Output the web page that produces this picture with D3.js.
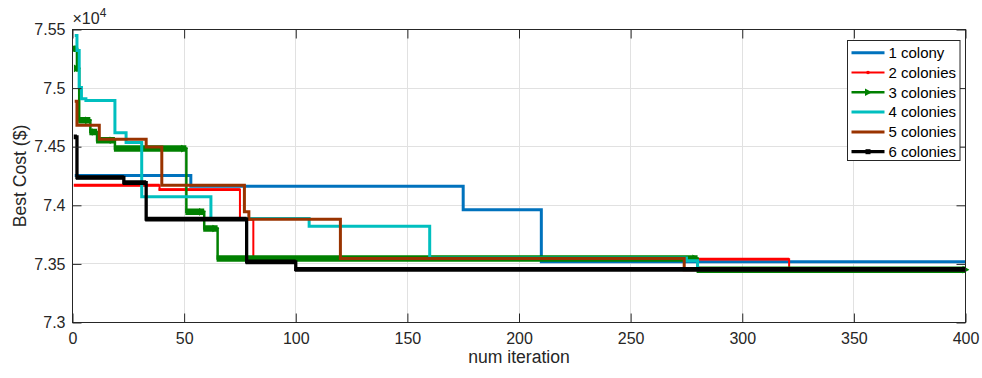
<!DOCTYPE html>
<html>
<head>
<meta charset="utf-8">
<script src="https://cdn.jsdelivr.net/npm/d3@7"></script>
<style>
  body { margin: 0; background: #fff; }
  svg { display: block; font-family: "Liberation Sans", Arial, sans-serif; }
</style>
</head>
<body>
<svg id="chart" width="982" height="378"></svg>
<script>
// step data: [iteration, best cost] -> value holds from that iteration on
const colony1 = [[1, 74254], [53, 74163], [175, 73963], [210, 73518], [400, 73518]];
const colony2 = [[1, 74171], [39, 74134], [75, 73882], [81, 73540], [321, 73451], [400, 73451]];
const colony3 = [[1, 75336], [2, 75168], [3, 74725], [8, 74625], [11, 74555], [19, 74484],
                 [51, 73944], [59, 73802], [65, 73547], [280, 73451], [400, 73451]];
const colony4 = [[1, 75449], [2, 75320], [3, 75005], [4, 74910], [6, 74895], [19, 74620],
                 [24, 74535], [31, 74072], [62, 73888], [106, 73822], [160, 73550],
                 [275, 73526], [280, 73451], [400, 73451]];
const colony5 = [[1, 74887], [2, 74682], [12, 74563], [33, 74497], [40, 74171], [77, 73945],
                 [79, 73882], [120, 73547], [274, 73451], [400, 73451]];
const colony6 = [[1, 74583], [2, 74237], [23, 74194], [33, 73882], [78, 73518], [100, 73453], [400, 73453]];

const seriesNames = ["1 colony", "2 colonies", "3 colonies", "4 colonies", "5 colonies", "6 colonies"];
const seriesData = [colony1, colony2, colony3, colony4, colony5, colony6];

const xTicks = [0, 50, 100, 150, 200, 250, 300, 350, 400];
const yTicks = [73000, 73500, 74000, 74500, 75000, 75500];

// look of each series (MATLAB-ish)
const styles = [
  { color: "#0072BD", width: 3 },
  { color: "#FF0000", width: 2, band: 2.8, marker: "dot" },
  { color: "#008000", width: 2.5, band: 6.5, marker: "tri" },
  { color: "#00BFBF", width: 3 },
  { color: "#993300", width: 3 },
  { color: "#000000", width: 3.3, band: 4.7, marker: "square" }
];

const margin = { top: 29.5, right: 16.5, bottom: 55.5, left: 72.5 };
const W = 982, H = 378;
const width = W - margin.left - margin.right;
const height = H - margin.top - margin.bottom;
const ink = "#262626";

const svg = d3.select("#chart");
const g = svg.append("g").attr("transform", `translate(${margin.left},${margin.top})`);

const x = d3.scaleLinear().domain([0, 400]).range([0, width]);
const y = d3.scaleLinear().domain([73000, 75500]).range([height, 0]);

// grid
g.append("g").selectAll("line").data(xTicks.slice(1, -1)).enter().append("line")
  .attr("x1", d => Math.round(x(d))).attr("x2", d => Math.round(x(d)))
  .attr("y1", 0).attr("y2", height)
  .attr("stroke", "#e1e1e1");
g.append("g").selectAll("line").data(yTicks.slice(1, -1)).enter().append("line")
  .attr("y1", d => Math.round(y(d))).attr("y2", d => Math.round(y(d)))
  .attr("x1", 0).attr("x2", width)
  .attr("stroke", "#e1e1e1");

g.append("clipPath").attr("id", "clip").append("rect")
  .attr("x", 0).attr("y", 0).attr("width", width + 4).attr("height", height);

const plot = g.append("g").attr("clip-path", "url(#clip)");

const line = d3.line()
  .x(d => x(d[0]))
  .y(d => y(d[1]))
  .curve(d3.curveStepAfter);

seriesData.forEach((data, i) => {
  const st = styles[i];
  const s = plot.append("g");

  s.append("path")
    .datum(data)
    .attr("fill", "none")
    .attr("stroke", st.color)
    .attr("stroke-width", st.width)
    .attr("d", line);

  if (st.band) {
    // markers at every iteration make the flat parts look thicker
    const segs = data.slice(0, -1).map((d, j) => [d[0], data[j + 1][0], d[1]]);
    s.selectAll(".band").data(segs).enter().append("line")
      .attr("x1", d => x(d[0]) - 1).attr("x2", d => x(d[1]))
      .attr("y1", d => y(d[2])).attr("y2", d => y(d[2]))
      .attr("stroke", st.color)
      .attr("stroke-width", st.band);

    if (st.marker === "tri") {
      s.selectAll(".tri").data(segs).enter().append("path")
        .attr("transform", d => `translate(${x(d[1] === 400 ? 400 : d[1] - 1)},${y(d[2])})`)
        .attr("d", "M-3,-3.8L4,0L-3,3.8Z")
        .attr("fill", st.color);
    }
  }
});

// axes box
g.append("rect")
  .attr("width", width).attr("height", height)
  .attr("fill", "none").attr("stroke", ink).attr("stroke-width", 1);

const tickLen = 9;
const xAxis = g.append("g").attr("transform", `translate(0,${height})`)
  .call(d3.axisBottom(x).tickValues(xTicks).tickSize(-tickLen).tickPadding(10));
const yAxis = g.append("g")
  .call(d3.axisLeft(y).tickValues(yTicks).tickSize(-tickLen).tickPadding(7)
    .tickFormat(d => d3.format("")(+(d / 10000).toFixed(2))));
g.append("g")
  .call(d3.axisTop(x).tickValues(xTicks).tickSize(-tickLen).tickFormat(""));
g.append("g").attr("transform", `translate(${width},0)`)
  .call(d3.axisRight(y).tickValues(yTicks).tickSize(-tickLen).tickFormat(""));

g.selectAll(".domain").remove();
g.selectAll(".tick line").attr("stroke", ink);
g.selectAll(".tick text")
  .attr("fill", ink)
  .style("font-size", "16px")
  .style("font-family", "'Liberation Sans', Arial, sans-serif");

// exponent
const expo = g.append("text")
  .attr("x", 0).attr("y", -6)
  .attr("fill", ink)
  .style("font-size", "16px");
expo.append("tspan").text("\u00d710");
expo.append("tspan").attr("dy", -7).style("font-size", "12px").text("4");

// axis labels
svg.append("text")
  .attr("x", margin.left + width / 2).attr("y", 363)
  .attr("text-anchor", "middle")
  .attr("fill", ink)
  .style("font-size", "17.6px")
  .text("num iteration");

svg.append("text")
  .attr("transform", `translate(26,${margin.top + height / 2}) rotate(-90)`)
  .attr("text-anchor", "middle")
  .attr("fill", ink)
  .style("font-size", "17.6px")
  .text("Best Cost ($)");

// legend
const legend = svg.append("g").attr("transform", "translate(847.5,40.5)");
legend.append("rect")
  .attr("width", 112.5).attr("height", 120)
  .attr("fill", "#fff").attr("stroke", ink).attr("stroke-width", 1);

seriesNames.forEach((name, i) => {
  const st = styles[i];
  const row = legend.append("g").attr("transform", `translate(0,${12.2 + i * 19.8})`);
  row.append("line")
    .attr("x1", 4).attr("x2", 37)
    .attr("stroke", st.color)
    .attr("stroke-width", st.width);
  if (st.marker === "dot") {
    row.append("circle").attr("cx", 20.5).attr("r", 1.8).attr("fill", st.color);
  } else if (st.marker === "tri") {
    row.append("path").attr("transform", "translate(20.5,0)")
      .attr("d", "M-3,-3.8L4,0L-3,3.8Z").attr("fill", st.color);
  } else if (st.marker === "square") {
    row.append("rect").attr("x", 18).attr("y", -2.5).attr("width", 5).attr("height", 5)
      .attr("fill", st.color);
  }
  row.append("text")
    .attr("x", 41).attr("dy", "0.35em")
    .attr("fill", "#000")
    .style("font-size", "15px")
    .text(name);
});
</script>
</body>
</html>
